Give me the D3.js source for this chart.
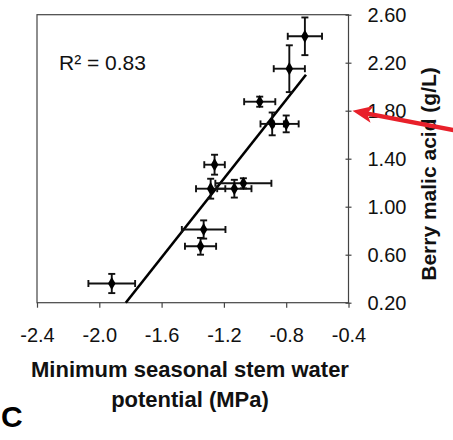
<!DOCTYPE html>
<html>
<head>
<meta charset="utf-8">
<script src="https://cdn.jsdelivr.net/npm/d3@7"></script>
<style>
	body { margin: 0; background: #fff; }
	svg { display: block; font-family: Arial, 'Liberation Sans', sans-serif; }
</style>
</head>
<body>
<svg width="453" height="440"></svg>
<script>
/////////////////////////////////////////////////////////////////////////
// data

var stemWP    = [-0.68, -0.78, -0.97, -0.89, -0.80, -1.26, -1.075, -1.285, -1.133, -1.33, -1.35, -1.92]
var stemWPErr = [ 0.11,  0.10,  0.10,  0.075, 0.08,  0.066, 0.18,  0.094,  0.11,  0.14,  0.10,  0.15]
var malic     = [ 2.42,  2.15,  1.875, 1.69,  1.69,  1.35,  1.195, 1.15,   1.15,  0.81,  0.67,  0.36]
var malicErr  = [ 0.157, 0.195, 0.042, 0.095, 0.07,  0.083, 0.042, 0.083,  0.074, 0.076, 0.07,  0.08]

// fitted line end points
var fitX = [-1.83, -0.673]
var fitY = [0.20, 2.10]

var xTicks = [-2.4, -2.0, -1.6, -1.2, -0.8, -0.4]
var yTicks = [0.20, 0.60, 1.00, 1.40, 1.80, 2.20, 2.60]
var r2Label = 'R\u00b2 = 0.83'
var arrowAt = 1.80

/////////////////////////////////////////////////////////////////////////
// chart

var svg = d3.select('svg')
var plotL = 37, plotR = 348.5, plotT = 14.7, plotB = 302.7

svg.append('rect').attr('width', 453).attr('height', 440).attr('fill', '#fff')

var x = d3.scaleLinear().domain([-2.4, -0.4]).range([plotL, plotR])
var y = d3.scaleLinear().domain([0.2, 2.6]).range([plotB, plotT])

// frame
svg.append('rect')
	.attr('x', plotL).attr('y', plotT)
	.attr('width', plotR - plotL).attr('height', plotB - plotT)
	.attr('fill', 'none').attr('stroke', '#444').attr('stroke-width', 1.2)

var gx = svg.append('g')
	.attr('transform', 'translate(0,' + plotB + ')')
	.call(d3.axisBottom(x).tickValues(xTicks).tickSize(5).tickPadding(20)
		.tickFormat(function(d) { return d.toFixed(1) }))
gx.select('.domain').remove()
gx.selectAll('line').attr('stroke', '#444').attr('stroke-width', 1.2)
gx.selectAll('text').attr('font-size', 20).attr('fill', '#111').attr('font-family', null)

var gy = svg.append('g')
	.attr('transform', 'translate(' + plotR + ',0)')
	.call(d3.axisRight(y).tickValues(yTicks).tickSize(3).tickPadding(16)
		.tickFormat(function(d) { return d.toFixed(2) }))
gy.select('.domain').remove()
gy.selectAll('line').attr('x1', -3).attr('stroke', '#444').attr('stroke-width', 1.2)
gy.selectAll('text').attr('font-size', 20).attr('fill', '#111').attr('font-family', null)

// fitted line
svg.append('line')
	.attr('x1', x(fitX[0])).attr('y1', y(fitY[0]))
	.attr('x2', x(fitX[1])).attr('y2', y(fitY[1]))
	.attr('stroke', '#000').attr('stroke-width', 2.6)

// error bars
var cap = 3.5
var bars = svg.append('g').attr('stroke', '#111').attr('stroke-width', 1.9)
stemWP.forEach(function(v, i) {
	var cx = x(v), cy = y(malic[i])
	var xl = x(v - stemWPErr[i]), xr = x(v + stemWPErr[i])
	var yt = y(malic[i] + malicErr[i]), yb = y(malic[i] - malicErr[i])
	bars.append('line').attr('x1', xl).attr('x2', xr).attr('y1', cy).attr('y2', cy)
	bars.append('line').attr('x1', xl).attr('x2', xl).attr('y1', cy - cap).attr('y2', cy + cap)
	bars.append('line').attr('x1', xr).attr('x2', xr).attr('y1', cy - cap).attr('y2', cy + cap)
	bars.append('line').attr('x1', cx).attr('x2', cx).attr('y1', yt).attr('y2', yb)
	bars.append('line').attr('x1', cx - cap).attr('x2', cx + cap).attr('y1', yt).attr('y2', yt)
	bars.append('line').attr('x1', cx - cap).attr('x2', cx + cap).attr('y1', yb).attr('y2', yb)
})

svg.append('g').selectAll('path').data(stemWP).enter().append('path')
	.attr('d', d3.symbol().type(d3.symbolDiamond).size(50))
	.attr('transform', function(d, i) { return 'translate(' + x(d) + ',' + y(malic[i]) + ')' })
	.attr('fill', '#000')

// R squared
svg.append('text').attr('x', 59).attr('y', 70)
	.attr('font-size', 21).attr('fill', '#111').text(r2Label)

// axis titles
var xt = svg.append('text').attr('text-anchor', 'middle')
	.attr('font-size', 22).attr('font-weight', 'bold').attr('fill', '#111')
xt.append('tspan').attr('x', 190).attr('y', 377).text('Minimum seasonal stem water')
xt.append('tspan').attr('x', 190).attr('y', 407).text('potential (MPa)')

svg.append('text')
	.attr('transform', 'translate(436,174) rotate(-90)')
	.attr('text-anchor', 'middle')
	.attr('font-size', 21).attr('font-weight', 'bold').attr('fill', '#111')
	.text('Berry malic acid (g/L)')

svg.append('text').attr('x', 1).attr('y', 427)
	.attr('font-size', 30).attr('font-weight', 'bold').attr('fill', '#000').text('C')

// red arrow pointing at the 1.80 tick
var tipX = plotR + 4, tipY = y(arrowAt)
var ang = Math.atan2(19, 99)
var ux = Math.cos(ang), uy = Math.sin(ang)
function pt(along, side) {
	return [tipX + ux * along - uy * side, tipY + uy * along + ux * side]
}
svg.append('line')
	.attr('x1', pt(14, 0)[0]).attr('y1', pt(14, 0)[1])
	.attr('x2', pt(140, 0)[0]).attr('y2', pt(140, 0)[1])
	.attr('stroke', '#e8202a').attr('stroke-width', 4.5)
svg.append('path')
	.attr('d', d3.line()([pt(0, 0), pt(20, -8.5), pt(15, 0), pt(20, 8.5)]) + 'Z')
	.attr('fill', '#e8202a')
</script>
</body>
</html>
